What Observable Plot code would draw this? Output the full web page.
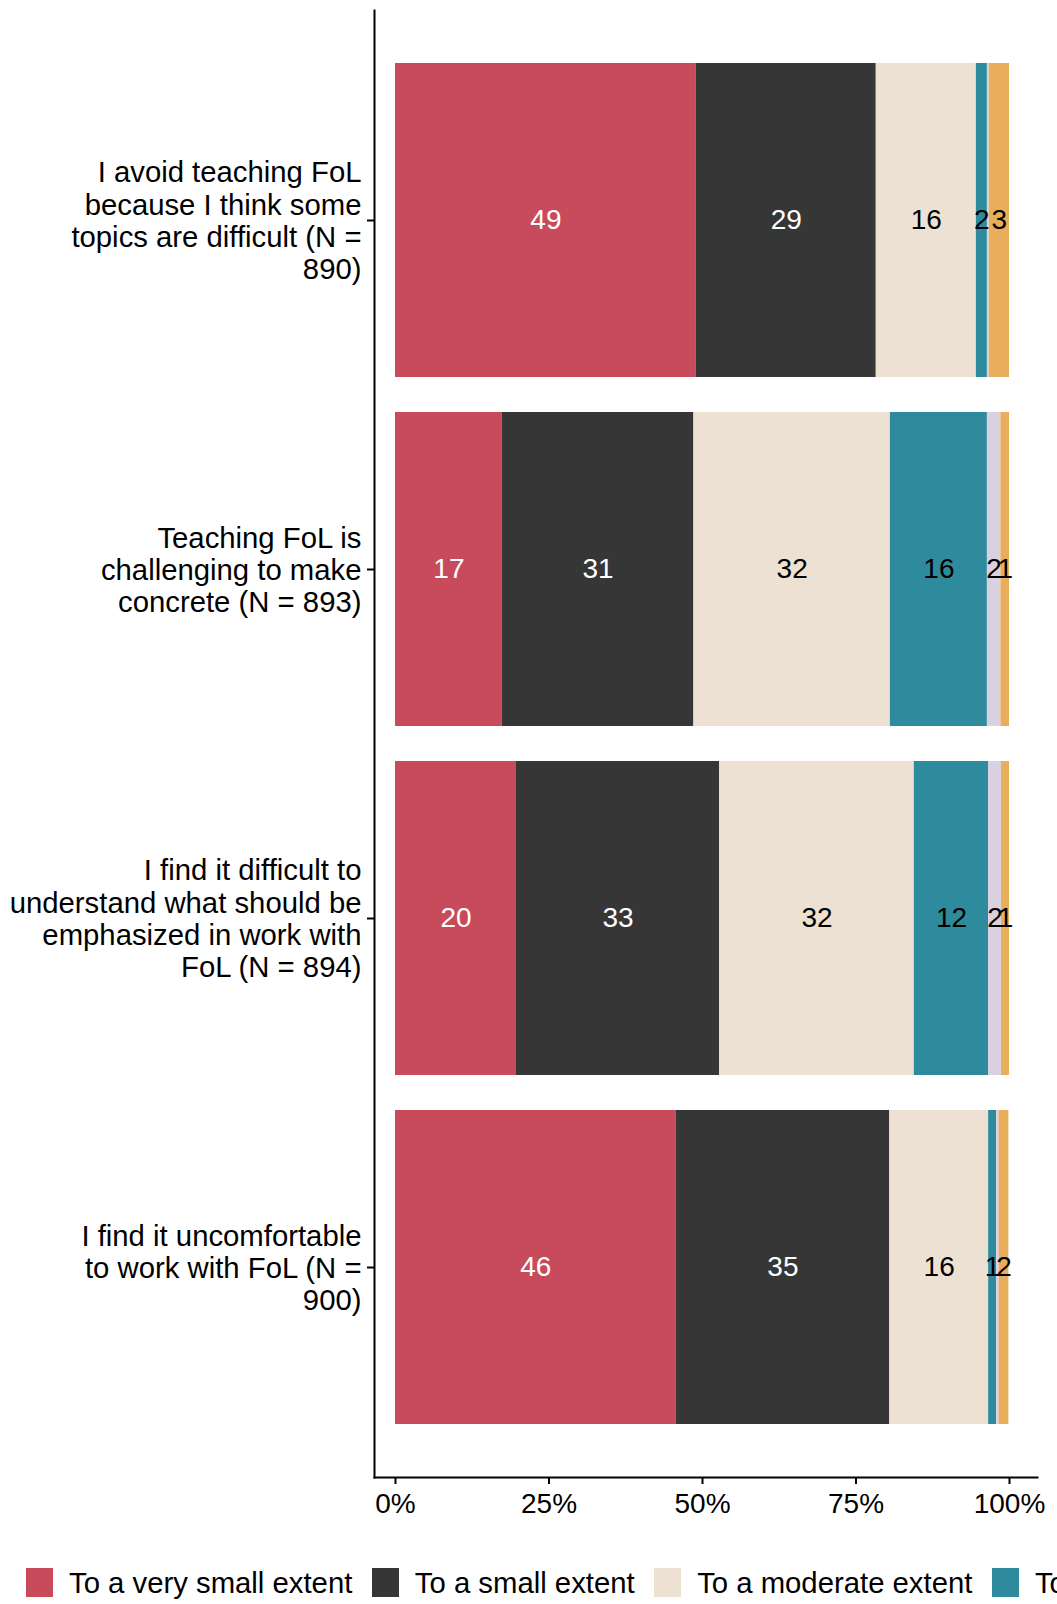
<!DOCTYPE html>
<html>
<head>
<meta charset="utf-8">
<script src="https://cdn.jsdelivr.net/npm/d3@7"></script>
<script src="https://cdn.jsdelivr.net/npm/@observablehq/plot@0.6"></script>
<style>
  html, body { margin: 0; padding: 0; background: #fff; width: 1057px; height: 1604px; overflow: hidden; }
  #wrap { position: relative; width: 1057px; height: 1604px; font-family: "Liberation Sans", Arial, sans-serif; overflow: hidden; }
  #chart svg { display: block; }
  #legend { position: absolute; left: 26px; top: 1568px; white-space: nowrap; font-size: 29.3px; line-height: 29px; color: #000; }
  .item { display: inline-flex; align-items: center; margin-right: 19.5px; }
  .sw { display: inline-block; width: 27px; height: 29px; margin-right: 16px; }
</style>
</head>
<body>
<div id="wrap">
  <div id="chart"></div>
  <div id="legend"></div>
</div>
<script>
const questions = [
  "I avoid teaching FoL\nbecause I think some\ntopics are difficult (N =\n890)",
  "Teaching FoL is\nchallenging to make\nconcrete (N = 893)",
  "I find it difficult to\nunderstand what should be\nemphasized in work with\nFoL (N = 894)",
  "I find it uncomfortable\nto work with FoL (N =\n900)"
];
const categories = [
  "To a very small extent",
  "To a small extent",
  "To a moderate extent",
  "To a large extent",
  "To a very large extent",
  "Don't know"
];
const colors = ["#C84B5B", "#363636", "#ECE1D2", "#2E8B9D", "#D9D0E0", "#E8AE5B"];
const lightText = ["To a very small extent", "To a small extent"];

// percentages per question, in category order
const q1Values = [49.0, 29.3, 16.3, 1.8, 0.3, 3.3];
const q2Values = [17.4, 31.2, 32.0, 15.8, 2.2, 1.4];
const q3Values = [19.7, 33.1, 31.7, 12.1, 2.1, 1.3];
const q4Values = [45.7, 34.8, 16.1, 1.3, 0.4, 1.6];

const xTicks = [0, 25, 50, 75, 100];

const allValues = [q1Values, q2Values, q3Values, q4Values];
const data = [];
questions.forEach((q, i) => {
  categories.forEach((c, j) => {
    data.push({question: q, category: c, value: allValues[i][j]});
  });
});
const labelOf = d => Math.round(d.value) >= 1 ? String(Math.round(d.value)) : "";
const lightLabel = d => lightText.includes(d.category) ? labelOf(d) : "";
const darkLabel = d => lightText.includes(d.category) ? "" : labelOf(d);

const stackOpts = {x: "value", y: "question", z: "category", order: null};

const chart = Plot.plot({
  width: 1057,
  height: 1540,
  marginLeft: 374,
  marginRight: 20,
  marginTop: 10,
  marginBottom: 63,
  style: {fontFamily: "'Liberation Sans', Arial, sans-serif", color: "#000", background: "#fff"},
  x: {domain: [-3.42, 104.56], label: null},
  y: {domain: questions, paddingInner: 0.1, paddingOuter: 0.15, label: null},
  color: {domain: categories, range: colors},
  marks: [
    Plot.barX(data, Plot.stackX({...stackOpts, fill: "category"})),
    Plot.textX(data, Plot.stackX({...stackOpts, text: lightLabel, fill: "white", fontSize: 28})),
    Plot.textX(data, Plot.stackX({...stackOpts, text: darkLabel, fill: "black", fontSize: 28})),
    Plot.axisX({ticks: xTicks, tickFormat: d => d + "%", tickSize: 7, tickPadding: 9,
      fontSize: 28, strokeWidth: 2, label: null}),
    Plot.axisY({tickSize: 7, tickPadding: 6, fontSize: 29.3, lineHeight: 1.1, strokeWidth: 2, label: null}),
    Plot.frame({anchor: "left", strokeWidth: 2}),
    Plot.frame({anchor: "bottom", strokeWidth: 2})
  ]
});
document.getElementById("chart").appendChild(chart);

const legend = document.getElementById("legend");
categories.forEach((c, i) => {
  const item = document.createElement("span");
  item.className = "item";
  const sw = document.createElement("span");
  sw.className = "sw";
  sw.style.background = colors[i];
  item.appendChild(sw);
  item.appendChild(document.createTextNode(c));
  legend.appendChild(item);
});
</script>
</body>
</html>
